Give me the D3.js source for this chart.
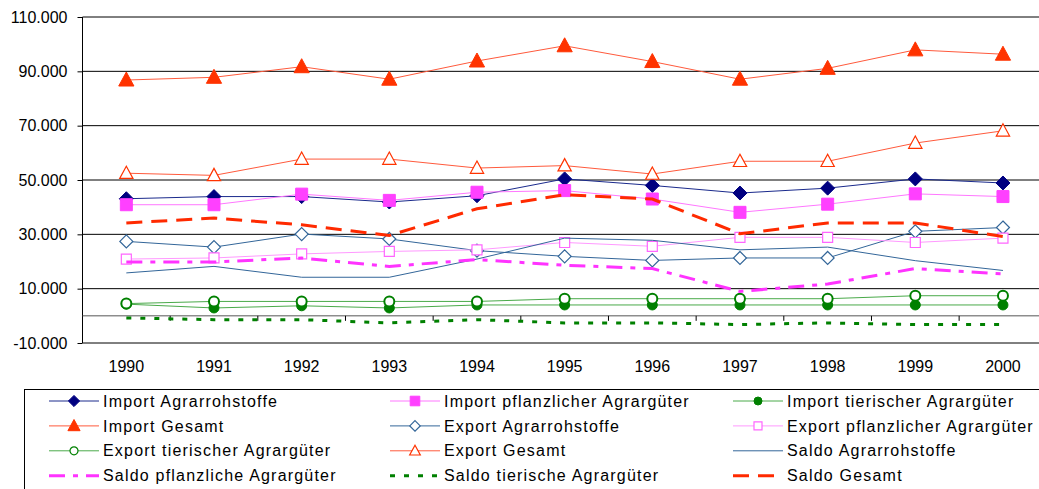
<!DOCTYPE html>
<html>
<head>
<meta charset="utf-8">
<script src="https://d3js.org/d3.v7.min.js"></script>
<style>
  body { margin: 0; background: #fff; }
  svg { display: block; font-family: "Liberation Sans", Arial, sans-serif; }
</style>
</head>
<body>
<svg width="1039" height="489"></svg>
<script>

// years on the x axis
var years = ["1990","1991","1992","1993","1994","1995","1996","1997","1998","1999","2000"];

// values in tonnes
var importAgrar     = [43100, 43900, 43900, 41900, 44200, 50400, 48000, 45200, 47000, 50400, 48900];
var importPflanz    = [40900, 40900, 44800, 42500, 45500, 46100, 43000, 38100, 41100, 44900, 43900];
var importTier      = [4300, 2900, 3700, 2900, 4000, 4000, 4000, 4000, 4000, 4000, 4000];
var importGesamt    = [86800, 87800, 91700, 87100, 93800, 99400, 93600, 87100, 91100, 97900, 96300];
var exportAgrar     = [27400, 25300, 30100, 28300, 24000, 21900, 20400, 21300, 21300, 31100, 32500];
var exportPflanz    = [20900, 21300, 22800, 23700, 24300, 27000, 25600, 28900, 28900, 27000, 28600];
var exportTier      = [4500, 5300, 5300, 5300, 5300, 6300, 6300, 6300, 6300, 7400, 7400];
var exportGesamt    = [52500, 51700, 57700, 57700, 54400, 55300, 52200, 56900, 56900, 63600, 68100];
var saldoAgrar      = [15800, 18200, 14200, 14200, 20900, 28600, 27800, 24300, 25300, 20300, 16700];
var saldoPflanz     = [19800, 19800, 21300, 18200, 20700, 18600, 17400, 9000, 11700, 17400, 15400];
var saldoTier       = [-800, -1400, -1400, -2600, -1400, -2600, -2600, -3200, -2600, -3200, -3200];
var saldoGesamt     = [34200, 36000, 33500, 29600, 39400, 44600, 43000, 30200, 34200, 34200, 29200];

var yTicks = [-10000, 10000, 30000, 50000, 70000, 90000, 110000];

var series = [
  {name: "Import Agrarrohstoffe", values: importAgrar, line: "#1a2a8c", width: 1, marker: "diamond", mfill: "#000080", mstroke: "#000080", msize: 7},
  {name: "Import pflanzlicher Agrargüter", values: importPflanz, line: "#ff77ff", width: 1, marker: "square", mfill: "#ff40ff", mstroke: "#ff40ff", msize: 6},
  {name: "Import tierischer Agrargüter", values: importTier, line: "#4aaa4a", width: 1, marker: "circle", mfill: "#008000", mstroke: "#008000", msize: 5},
  {name: "Import Gesamt", values: importGesamt, line: "#ff5a3c", width: 1, marker: "triangle", mfill: "#ff3300", mstroke: "#ff3300", msize: 8},
  {name: "Export Agrarrohstoffe", values: exportAgrar, line: "#336699", width: 1, marker: "diamond", mfill: "#fff", mstroke: "#336699", msize: 6.5},
  {name: "Export pflanzlicher Agrargüter", values: exportPflanz, line: "#ff99ff", width: 1, marker: "square", mfill: "#fff", mstroke: "#ff66ff", msize: 5},
  {name: "Export tierischer Agrargüter", values: exportTier, line: "#4aaa4a", width: 1, marker: "circle", mfill: "#fff", mstroke: "#008000", msize: 5},
  {name: "Export Gesamt", values: exportGesamt, line: "#ff5a3c", width: 1, marker: "triangle", mfill: "#fff", mstroke: "#ff3300", msize: 7},
  {name: "Saldo Agrarrohstoffe", values: saldoAgrar, line: "#336699", width: 1},
  {name: "Saldo pflanzliche Agrargüter", values: saldoPflanz, line: "#ff33ff", width: 3, dash: "16,8,5,8"},
  {name: "Saldo tierische Agrargüter", values: saldoTier, line: "#008000", width: 3, dash: "5,9"},
  {name: "Saldo Gesamt", values: saldoGesamt, line: "#ff2a00", width: 3, dash: "16,9"}
];

var svg = d3.select("svg");

var x = d3.scaleBand().domain(years).range([82.5, 1046.8]).padding(0);
var y = d3.scaleLinear().domain([-10000, 110000]).range([343, 17]);

var fmt = d3.formatLocale({decimal: ",", thousands: ".", grouping: [3], currency: ["", " €"], minus: "-"}).format(",.0f");

// gridlines
svg.append("g")
  .selectAll("line")
  .data(yTicks)
  .enter().append("line")
    .attr("x1", x.range()[0])
    .attr("x2", x.range()[1])
    .attr("y1", function(d) { return y(d); })
    .attr("y2", function(d) { return y(d); })
    .attr("stroke", "#000")
    .attr("stroke-width", 1);

// y axis
var yAxis = svg.append("g")
  .attr("transform", "translate(82.5,0)")
  .call(d3.axisLeft(y).tickValues(yTicks).tickFormat(fmt).tickSize(5).tickPadding(10));
yAxis.select(".domain").attr("stroke", "#000").attr("d", "M0," + y(110000) + "V" + y(-10000));
yAxis.selectAll("text").attr("font-size", 16).attr("font-family", "Liberation Sans, Arial, sans-serif").attr("fill", "#000");

// x axis on the zero line, ticks between the categories
var xAxis = svg.append("g")
  .attr("transform", "translate(0," + y(0) + ")");
xAxis.append("line")
  .attr("x1", x.range()[0]).attr("x2", x.range()[1])
  .attr("stroke", "#555");
xAxis.selectAll("line.tick")
  .data(years.slice(1))
  .enter().append("line")
    .attr("class", "tick")
    .attr("x1", function(d) { return x(d); })
    .attr("x2", function(d) { return x(d); })
    .attr("y1", 0).attr("y2", 5)
    .attr("stroke", "#000");

svg.append("g")
  .selectAll("text")
  .data(years)
  .enter().append("text")
    .attr("x", function(d) { return x(d) + x.bandwidth() / 2; })
    .attr("y", 372)
    .attr("text-anchor", "middle")
    .attr("font-size", 16)
    .text(function(d) { return d; });

function markerPath(type, r) {
  if (type == "diamond") return "M0," + (-r) + "L" + r + ",0L0," + r + "L" + (-r) + ",0Z";
  if (type == "square") return "M" + (-r) + "," + (-r) + "h" + (2*r) + "v" + (2*r) + "h" + (-2*r) + "Z";
  if (type == "triangle") return "M0," + (-r) + "L" + (r*0.95) + "," + (r*0.75) + "L" + (-r*0.95) + "," + (r*0.75) + "Z";
  return d3.symbol().type(d3.symbolCircle).size(Math.PI * r * r)();
}

var line = d3.line()
  .x(function(d, i) { return x(years[i]) + x.bandwidth() / 2; })
  .y(function(d) { return y(d); });

// series, drawn in order so later ones sit on top
series.forEach(function(s) {
  var g = svg.append("g");
  g.append("path")
    .attr("d", line(s.values))
    .attr("fill", "none")
    .attr("stroke", s.line)
    .attr("stroke-width", s.width)
    .attr("stroke-dasharray", s.dash || null);
  if (s.marker) {
    g.selectAll("path.m")
      .data(s.values)
      .enter().append("path")
        .attr("class", "m")
        .attr("transform", function(d, i) { return "translate(" + (x(years[i]) + x.bandwidth() / 2) + "," + y(d) + ")"; })
        .attr("d", markerPath(s.marker, s.msize))
        .attr("fill", s.mfill)
        .attr("stroke", s.mstroke)
        .attr("stroke-width", s.mfill == "#fff" ? (s.marker == "circle" ? 2 : 1.2) : 1);
  }
});

// legend
var legend = svg.append("g");
legend.append("rect")
  .attr("x", 24.5).attr("y", 389.5)
  .attr("width", 1030).attr("height", 120)
  .attr("fill", "#fff")
  .attr("stroke", "#000")
  .attr("stroke-width", 1);

var colX = [49, 390, 733];
var item = legend.selectAll("g.item")
  .data(series)
  .enter().append("g")
    .attr("class", "item")
    .attr("transform", function(d, i) { return "translate(" + colX[i % 3] + "," + (401 + Math.floor(i / 3) * 24.9) + ")"; });

item.append("line")
  .attr("x1", 0).attr("x2", 50)
  .attr("stroke", function(d) { return d.line; })
  .attr("stroke-width", function(d) { return d.width; })
  .attr("stroke-dasharray", function(d) { return d.dash || null; });

item.filter(function(d) { return d.marker; })
  .append("path")
    .attr("transform", "translate(25,0)")
    .attr("d", function(d) { return markerPath(d.marker, d.msize * 0.8); })
    .attr("fill", function(d) { return d.mfill; })
    .attr("stroke", function(d) { return d.mstroke; })
    .attr("stroke-width", function(d) { return d.mfill == "#fff" ? 1.2 : 1; });

item.append("text")
  .attr("x", 54)
  .attr("y", 0)
  .attr("dy", "0.35em")
  .attr("font-size", 16)
  .attr("letter-spacing", 1.2)
  .text(function(d) { return d.name; });

</script>
</body>
</html>
